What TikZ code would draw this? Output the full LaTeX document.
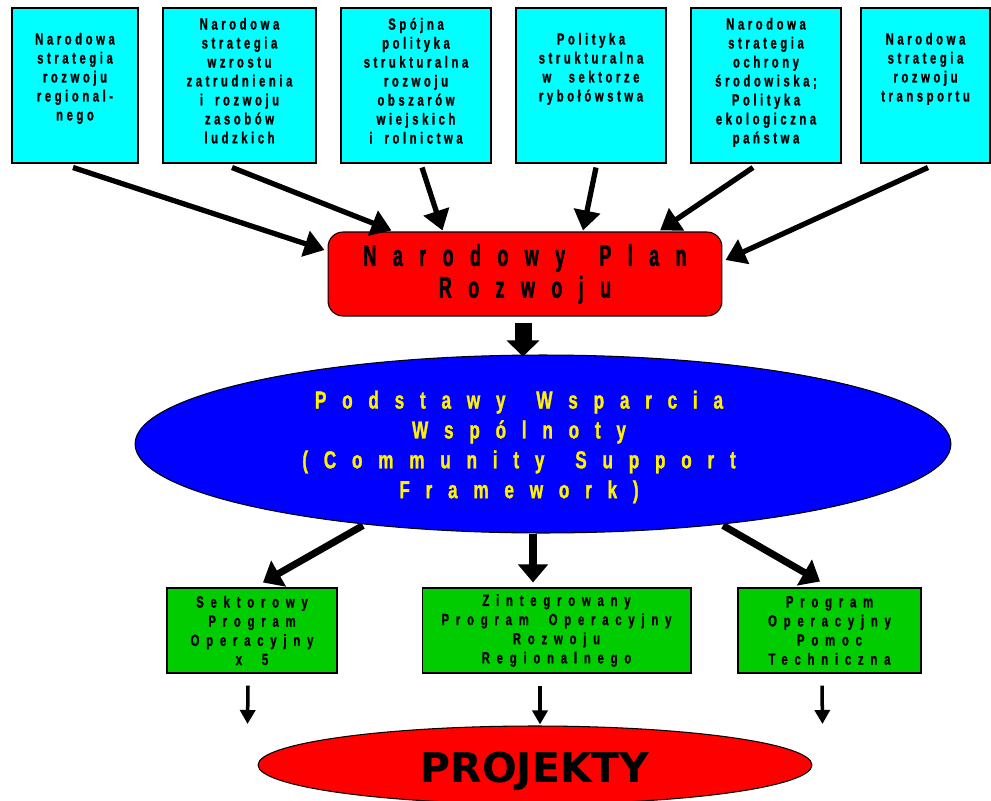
\documentclass[tikz,border=0pt]{standalone}
\usepackage{fontspec}
\setmainfont{Liberation Sans}
\newfontfamily\stratfont[LetterSpace=22,WordSpace=1.8,FakeStretch=0.7,FakeBold=1]{Liberation Sans Bold}
\newfontfamily\progfont[LetterSpace=42,WordSpace=2,FakeStretch=0.7,FakeBold=1]{Liberation Sans Bold}
\newfontfamily\titlefont[LetterSpace=55,WordSpace=1.6,FakeStretch=0.6,FakeBold=1.5]{Liberation Sans Bold}
\newfontfamily\cspfont[LetterSpace=64,WordSpace=1.5,FakeStretch=0.7,FakeBold=1.2]{Liberation Sans Bold}
\newfontfamily\projfont{DejaVu Sans}
\usepackage{xcolor}
\usepackage{tikz}
\usetikzlibrary{positioning,arrows.meta,shapes.geometric}

\definecolor{stratcyan}{RGB}{0,255,255}
\definecolor{progreen}{RGB}{0,204,0}

\begin{document}
\begin{tikzpicture}[x=0.02cm, y=-0.02cm,
  stratbox/.style={draw, fill=stratcyan, line width=0.6pt, minimum height=3.1cm},
  strattext/.style={align=center, inner sep=0pt, font=\stratfont\fontsize{9.2}{10.8}\selectfont},
  progbox/.style={draw, fill=progreen, line width=0.6pt, minimum height=1.7cm, align=center, inner sep=0pt, font=\progfont\fontsize{9.2}{10.9}\selectfont},
  feed/.style={line width=3pt, -{Triangle[length=0.4cm, width=0.52cm]}},
  branch/.style={line width=4pt, -{Triangle[length=0.36cm, width=0.58cm]}},
  toproj/.style={line width=2pt, -{Triangle[length=0.28cm, width=0.3cm]}}]

  \useasboundingbox (0,0) rectangle (991,801);

  % Strategies (top row)
  \node[stratbox, minimum width=2.52cm] (regio) at (75,85.5) {};
  \node[strattext, below=0.5cm of regio.north] (regio-t) {Narodowa\\strategia\\rozwoju\\regional-\\nego};

  \node[stratbox, minimum width=3.06cm] (ludzkie) at (239.5,85.5) {};
  \node[strattext, below=0.2cm of ludzkie.north] (ludzkie-t) {Narodowa\\strategia\\wzrostu\\zatrudnienia\\i rozwoju\\zasobów\\ludzkich};

  \node[stratbox, minimum width=3cm] (rolnictwo) at (416,85.5) {};
  \node[strattext, below=0.2cm of rolnictwo.north] (rolnictwo-t) {Spójna\\polityka\\strukturalna\\rozwoju\\obszarów\\wiejskich\\i rolnictwa};

  \node[stratbox, minimum width=3cm] (rybol) at (591,85.5) {};
  \node[strattext, below=0.5cm of rybol.north] (rybol-t) {Polityka\\strukturalna\\w\kern3pt\ sektorze\\rybołówstwa};

  \node[stratbox, minimum width=3cm] (srodow) at (766,85.5) {};
  \node[strattext, below=0.2cm of srodow.north] (srodow-t) {Narodowa\\strategia\\ochrony\\środowiska;\\Polityka\\ekologiczna\\państwa};

  \node[stratbox, minimum width=2.58cm] (transp) at (925.5,85.5) {};
  \node[strattext, below=0.5cm of transp.north] (transp-t) {Narodowa\\strategia\\rozwoju\\transportu};

  % Plan
  \node[draw, fill=red, line width=0.6pt, rounded corners=0.3cm, minimum width=7.88cm, minimum height=1.68cm,
        align=center, font=\titlefont\fontsize{17}{18.1}\selectfont] (npr) at (525,274) {Narodowy Plan\\Rozwoju};

  \draw[feed] ([shift={(-2,4)}]regio.south) -- ([shift={(-3,-24)}]npr.west);
  \draw[feed] ([shift={(-7.5,4)}]ludzkie.south) -- ([shift={(64,-1)}]npr.north west);
  \draw[feed] ([shift={(6,4)}]rolnictwo.south) -- ([shift={(115,-1)}]npr.north west);
  \draw[feed] ([shift={(5,4)}]rybol.south) -- ([shift={(58,-1)}]npr.north);
  \draw[feed] ([shift={(-13,4)}]srodow.south) -- ([shift={(135,-1)}]npr.north);
  \draw[feed] ([shift={(2.5,4)}]transp.south) -- ([shift={(3,-14)}]npr.east);

  % CSF
  \node[draw, fill=blue, ellipse, line width=0.6pt, minimum width=16.32cm, minimum height=3.56cm] (psw) at (543,444) {};
  \node[align=center, text=yellow, inner sep=0pt, font=\cspfont\fontsize{14}{17}\selectfont] (psw-t)
        at ([shift={(-24,3)}]psw.center) {Podstawy Wsparcia\\Wspólnoty\\(Community Support\\Framework)};

  \draw[line width=0.34cm, -{Triangle[length=0.32cm, width=0.64cm]}] ([shift={(-2,6)}]npr.south) -- ([shift={(-20,2)}]psw.north);

  % Operational programmes
  \node[progbox, minimum width=3.4cm] (spo) at (252,630.5) {Sektorowy\\Program\\Operacyjny\\x 5};
  \node[progbox, minimum width=5.38cm] (zporr) at (556.5,630.5) {Zintegrowany\\Program Operacyjny\\Rozwoju\\Regionalnego};
  \node[progbox, minimum width=3.66cm] (pomtech) at (829.5,630.5) {Program\\Operacyjny\\Pomoc\\Techniczna};

  \draw[branch] ([shift={(-180,-8)}]psw.south) -- ([shift={(11,-5)}]spo.north);
  \draw[branch] ([shift={(-10,0)}]psw.south) -- ([shift={(-23.5,-5)}]zporr.north);
  \draw[branch] ([shift={(180,-8)}]psw.south) -- ([shift={(-9.5,-6)}]pomtech.north);

  % Projects
  \node[draw, fill=red, ellipse, line width=0.6pt, minimum width=11.08cm, minimum height=1.56cm] (proj) at (535,765) {};
  \node[anchor=base, inner sep=0pt, font=\projfont\bfseries\fontsize{23.3}{28}\selectfont] (proj-t)
        at ([shift={(0,17)}]proj.center) {PROJEKTY};

  \draw[toproj] ([shift={(-4,12)}]spo.south) -- ([shift={(-10,-41)}]proj.west);
  \draw[toproj] ([shift={(-16.5,12)}]zporr.south) -- ([shift={(5,-1)}]proj.north);
  \draw[toproj] ([shift={(-7.5,12)}]pomtech.south) -- ([shift={(10,-41)}]proj.east);
\end{tikzpicture}
\end{document}
